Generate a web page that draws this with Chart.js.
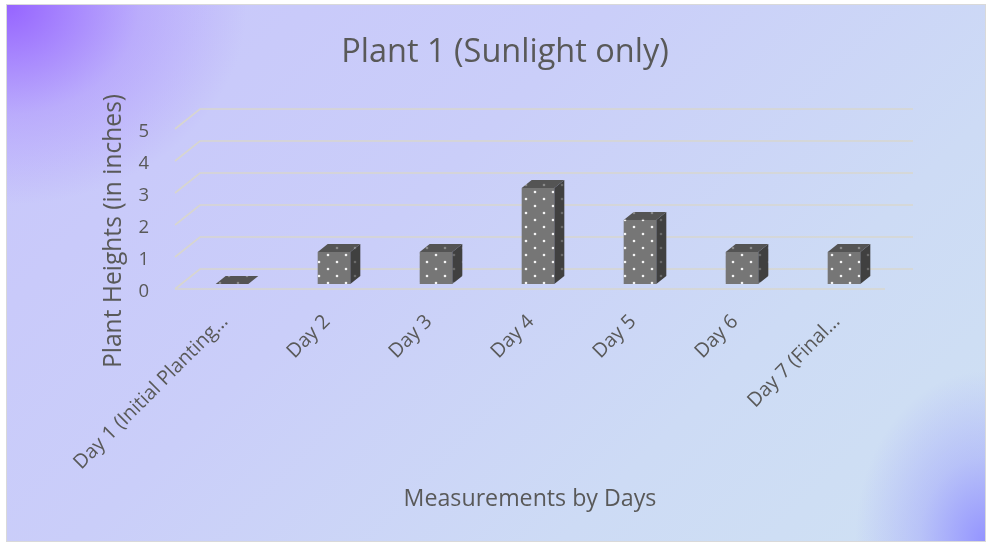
<!DOCTYPE html>
<html>
<head>
<meta charset="utf-8">
<script src="https://cdn.jsdelivr.net/npm/chart.js@4/dist/chart.umd.min.js"></script>
<style>
  html, body { margin: 0; padding: 0; background: #fff; }
  #box {
    position: absolute; left: 6px; top: 4px; width: 978px; height: 536px;
    border: 1px solid #d9d9d9;
    background:
      radial-gradient(ellipse 240px 200px at 0 0, rgba(150,100,255,1), rgba(160,120,255,0.35) 55%, rgba(170,140,255,0) 100%),
      radial-gradient(ellipse 130px 170px at 100% 100%, rgba(148,148,255,1), rgba(150,150,255,0.4) 50%, rgba(150,150,255,0) 100%),
      linear-gradient(135deg, #c8c6fb 0%, #cacef9 40%, #cddbf5 72%, #cfe1f3 100%);
  }
  #wrap { position: absolute; left: 0; top: 0; width: 992px; height: 548px; }
</style>
</head>
<body>
<div id="box"></div>
<div id="wrap"><canvas id="chart" width="992" height="548"></canvas></div>
<script>
const categories = ["Day 1 (Initial Planting\u2026", "Day 2", "Day 3", "Day 4", "Day 5", "Day 6", "Day 7 (Final\u2026"];
const heights = [0, 1, 1, 3, 2, 1, 1];
const yMin = 0, yMax = 5, yStep = 1;

const chartTitle = "Plant 1 (Sunlight only)";
const xTitle = "Measurements by Days";
const yTitle = "Plant Heights (in inches)";

const textColor = "#595959";
const FONT = "'Open Sans', sans-serif";

// white dotted fill like the excel pattern
function dotPattern(bg, dot) {
  const c = document.createElement("canvas");
  c.width = 18; c.height = 14;
  const g = c.getContext("2d");
  g.fillStyle = bg;
  g.fillRect(0, 0, 18, 14);
  g.fillStyle = dot;
  [[4, 3], [13, 10]].forEach(p => {
    g.beginPath();
    g.arc(p[0], p[1], 1.3, 0, Math.PI * 2);
    g.fill();
  });
  return g.createPattern(c, "repeat");
}

const ctx = document.getElementById("chart").getContext("2d");
const frontFill = dotPattern("#767676", "#f4f4f4");
const topFill = dotPattern("#545454", "#8a8a8a");
const sideFill = dotPattern("#404040", "#6a6a6a");

const DX = 25, DY = 20;   // depth of the floor / back wall
const BDX = 10, BDY = 8;  // depth of each bar

const threeD = {
  id: "threeD",
  beforeDatasetsDraw(chart) {
    const c = chart.ctx;
    const a = chart.chartArea;
    const y = chart.scales.y;
    const fl = a.left - 6, fr = a.right - 10;
    c.save();
    c.strokeStyle = "rgba(216,214,204,0.95)";
    c.lineWidth = 1.7;
    for (let v = yMin; v <= yMax; v += yStep) {
      const py = y.getPixelForValue(v);
      c.beginPath();
      c.moveTo(fl, py + 5);
      c.lineTo(fl + DX, py + 5 - DY);
      c.lineTo(fr + DX + 3, py + 5 - DY);
      c.stroke();
    }
    const p0 = y.getPixelForValue(0) + 5;
    c.beginPath();
    c.moveTo(fl, p0);
    c.lineTo(fr, p0);
    c.stroke();
    c.restore();
  },
  afterDatasetsDraw(chart) {
    const c = chart.ctx;
    const meta = chart.getDatasetMeta(0);
    c.save();
    meta.data.forEach(bar => {
      const l = bar.x - bar.width / 2, r = bar.x + bar.width / 2;
      const t = bar.y, b = bar.base;
      // top
      c.fillStyle = topFill;
      c.beginPath();
      c.moveTo(l, t);
      c.lineTo(l + BDX, t - BDY);
      c.lineTo(r + BDX, t - BDY);
      c.lineTo(r, t);
      c.closePath();
      c.fill();
      // side
      if (b - t > 0.5) {
        c.fillStyle = sideFill;
        c.beginPath();
        c.moveTo(r, t);
        c.lineTo(r + BDX, t - BDY);
        c.lineTo(r + BDX, b - BDY);
        c.lineTo(r, b);
        c.closePath();
        c.fill();
      }
    });
    c.restore();
  },
  afterDraw(chart) {
    const c = chart.ctx;
    c.save();
    c.fillStyle = textColor;
    c.textAlign = "center";
    c.textBaseline = "alphabetic";
    c.font = "23.2px " + FONT;
    c.fillText(xTitle, 530, 506);
    c.font = "24.6px " + FONT;
    c.translate(121, 231);
    c.rotate(-Math.PI / 2);
    c.fillText(yTitle, 0, 0);
    c.restore();
  }
};

new Chart(ctx, {
  type: "bar",
  data: {
    labels: categories,
    datasets: [{
      data: heights,
      backgroundColor: frontFill,
      borderWidth: 0,
      categoryPercentage: 1,
      barPercentage: 0.32
    }]
  },
  options: {
    responsive: false,
    animation: false,
    layout: { padding: { left: 18, right: 0, top: 0, bottom: 0 } },
    plugins: {
      legend: { display: false },
      tooltip: { enabled: false },
      title: {
        display: true,
        text: chartTitle,
        color: textColor,
        font: { family: FONT, size: 32.5, weight: "normal" },
        padding: { top: 33, bottom: 52 }
      }
    },
    scales: {
      x: {
        grid: { display: false, drawTicks: false },
        border: { display: false },
        ticks: {
          color: textColor,
          font: { family: FONT, size: 19.8 },
          minRotation: 45, maxRotation: 45,
          autoSkip: false,
          padding: 26,
          labelOffset: -7
        },
        afterFit(s) { s.height = 264; }
      },
      y: {
        min: yMin, max: yMax,
        grid: { display: false, drawTicks: false },
        border: { display: false },
        ticks: {
          stepSize: yStep,
          color: textColor,
          font: { family: FONT, size: 18.5 },
          padding: 32,
          labelOffset: 8
        },
        afterFit(s) { s.width = 163; }
      },
      yR: {
        type: "linear",
        position: "right",
        display: true,
        grid: { display: false, drawTicks: false },
        border: { display: false },
        ticks: { display: false },
        afterFit(s) { s.width = 97; }
      }
    }
  },
  plugins: [threeD]
});
</script>
</body>
</html>
